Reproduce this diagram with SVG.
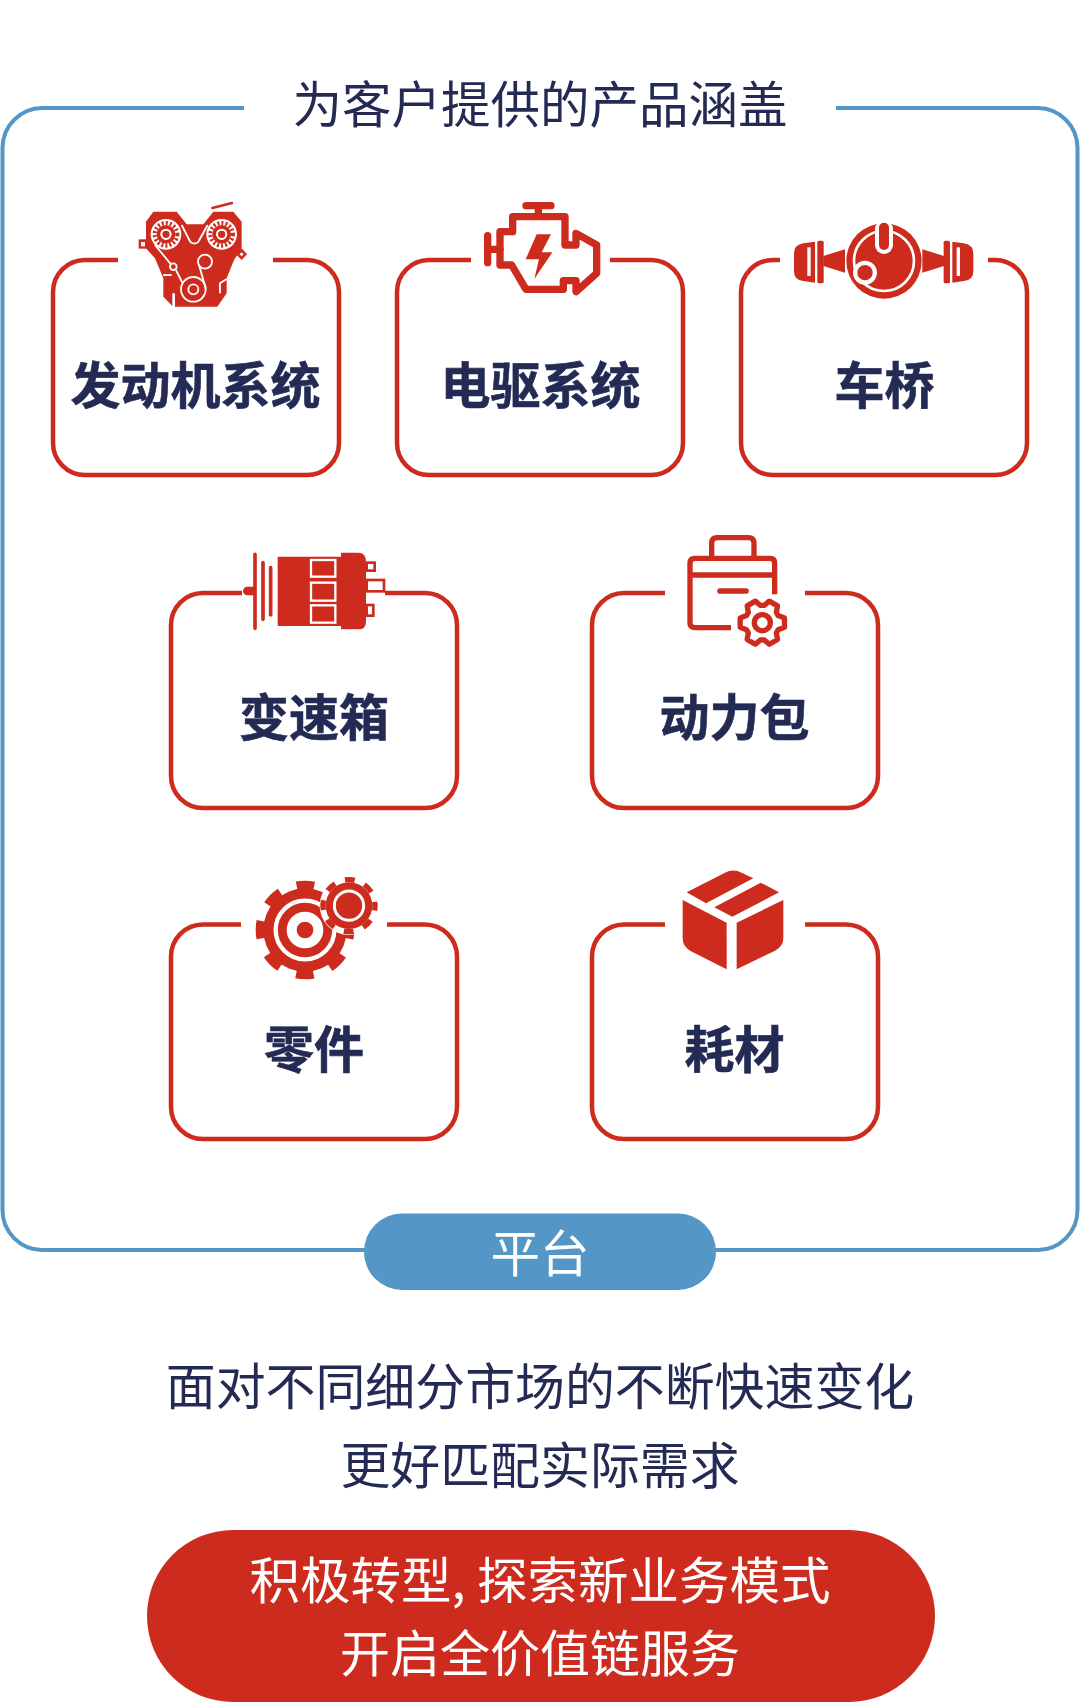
<svg xmlns="http://www.w3.org/2000/svg" xmlns:xlink="http://www.w3.org/1999/xlink" width="1080" height="1702" viewBox="0 0 1080 1702">
<style>
text{font-family:"Noto Sans CJK SC","Noto Sans",sans-serif;text-anchor:middle;font-size:49.500px}
.t{fill:#232b55}
.s{font-size:49.900px}
.b{fill:#232b55;font-weight:700;font-size:50px;stroke:#232b55;stroke-width:.6}
.w{fill:#fff}
.card{fill:none;stroke:#cc2b1d;stroke-width:4.500}
.r{fill:#cc2b1d}
.ws{fill:none;stroke:#fff}
.rs{fill:none;stroke:#cc2b1d;stroke-linecap:round;stroke-linejoin:round}
</style>
<rect width="1080" height="1702" fill="#fff"/>
<g id="frame">
<path d="M244 108H42A40 40 0 0 0 2.500 148V1210A40 40 0 0 0 42 1250H1038A40 40 0 0 0 1077.500 1210V148A40 40 0 0 0 1038 108H836" fill="none" stroke="#5497c6" stroke-width="4"/>
<text class="t" x="540" y="123">为客户提供的产品涵盖</text>
</g>
<g id="platform">
<rect x="364" y="1213.500" width="352" height="76.500" rx="38" fill="#5497c6"/>
<text class="w" x="540" y="1272">平台</text>
</g>
<g id="node-engine">
<path class="card" d="M118 260H85A32 32 0 0 0 53 292V443A32 32 0 0 0 85 475H307A32 32 0 0 0 339 443V292A32 32 0 0 0 307 260H273"/>
<g transform="translate(135 195) scale(.3333)">
<path class="r" d="M55 50H125L155 88H205L235 50H295L320 80V160L297 195L275 250V295L247 335H120V295H112V333L85 305V250L60 190L33 160V80Z"/>
<path class="rs" stroke-width="7" d="M232 39L291 24"/>
<rect x="11" y="133" width="24" height="28" class="r"/><rect x="18" y="141" width="12" height="13" fill="#fff"/>
<path class="r" d="M320 160L336 178L320 195L303 178Z"/><path d="M320 172L326 178L320 184L313 178Z" fill="#fff"/>
<g id="engine-gear">
<circle cx="93" cy="118" r="46" fill="#fff"/>
<circle class="r" cx="93" cy="118" r="28"/>
<circle cx="93" cy="118" r="34" fill="none" stroke="#cc2b1d" stroke-width="12" stroke-dasharray="6 6.200"/>
<circle class="ws" cx="93" cy="118" r="14" stroke-width="6"/>
</g>
<use xlink:href="#engine-gear" href="#engine-gear" transform="translate(167 0)"/>
<g class="ws" stroke-width="5.500">
<path d="M60 150L108 208M140 90L163 135A16 16 0 0 0 193 135L218 90"/>
<circle cx="115" cy="215" r="10"/>
<circle cx="175" cy="283" r="37"/><circle cx="175" cy="283" r="15"/>
<circle cx="210" cy="200" r="21"/>
<path d="M123 225L143 265M193 213L212 280"/>
<path d="M85 240H110M255 295V265L275 252"/>
</g>
</g>
<text class="b" x="195.500" y="404">发动机系统</text>
</g>
<g id="node-motor">
<path class="card" d="M471 260H429A32 32 0 0 0 397 292V443A32 32 0 0 0 429 475H651A32 32 0 0 0 683 443V292A32 32 0 0 0 651 260H610"/>
<g transform="translate(470 190) scale(.3333)">
<g class="rs" stroke-width="22">
<path d="M168 47H243M205 47V78M53 137V218M55 178H90"/>
<path d="M128 80H285V165H318V130L380 165V250L318 305V272H280V298H168L125 225H90V125H128Z"/>
</g>
<path class="r" d="M200 133H243L215 187H247L193 267L207 208H167Z"/>
</g>
<text class="b" x="540.500" y="404">电驱系统</text>
</g>
<g id="node-axle">
<path class="card" d="M780 260H773A32 32 0 0 0 741 292V443A32 32 0 0 0 773 475H995A32 32 0 0 0 1027 443V292A32 32 0 0 0 995 260H988"/>
<g transform="translate(770 200) scale(.3333)">
<g id="axle-half" class="r">
<path d="M135 125L100 130Q72 135 72 160V215Q72 240 100 243L135 248Z"/>
<rect x="112" y="142" width="10" height="86" fill="#fff"/>
<rect x="142" y="122" width="19" height="128" rx="5"/>
<path d="M160 168L225 148V218L160 198Z"/>
</g>
<use xlink:href="#axle-half" href="#axle-half" transform="translate(682 0) scale(-1 1)"/>
<circle class="r" cx="342" cy="183" r="113"/>
<circle class="ws" cx="342" cy="183" r="90" stroke-width="8"/>
<rect x="315" y="60" width="54" height="102" rx="27" fill="#fff"/>
<rect x="327" y="68" width="30" height="82" rx="15" class="r"/>
<circle cx="285" cy="218" r="36" fill="#fff"/><circle class="r" cx="285" cy="218" r="23"/>
</g>
<text class="b" x="884.500" y="404">车桥</text>
</g>
<g id="node-gearbox">
<path class="card" d="M242 593H203A32 32 0 0 0 171 625V776A32 32 0 0 0 203 808H425A32 32 0 0 0 457 776V625A32 32 0 0 0 425 593H385"/>
<g transform="translate(230 540) scale(.3333)">
<g class="rs" stroke-width="11"><path d="M75 43V265M99 68V238M122 83V225"/></g>
<path class="r" d="M75 140H52A13 13 0 0 0 52 166H75Z"/>
<path class="r" d="M146 50H333V38H385Q408 38 408 65V245Q408 268 385 268H333V258H146Q143 258 143 255V53Q143 50 146 50Z"/>
<g class="ws" stroke-width="7"><rect x="243" y="60" width="73" height="50"/><rect x="243" y="128" width="73" height="54"/><rect x="243" y="196" width="73" height="52"/></g>
<g fill="none" stroke="#cc2b1d" stroke-width="8"><rect x="410" y="68" width="24" height="24"/><rect x="410" y="120" width="52" height="34"/><rect x="410" y="195" width="20" height="32"/></g>
</g>
<text class="b" x="314" y="736">变速箱</text>
</g>
<g id="node-pack">
<path class="card" d="M665 593H624A32 32 0 0 0 592 625V776A32 32 0 0 0 624 808H846A32 32 0 0 0 878 776V625A32 32 0 0 0 846 593H805"/>
<g transform="translate(670 525) scale(.3333)">
<g class="rs" stroke-width="16">
<path d="M125 95V55Q125 38 142 38H235Q252 38 252 55V95"/>
<path d="M314 208V114Q314 100 300 100H75Q60 100 60 114V294Q60 308 75 308H183" stroke-linecap="butt"/>
<path d="M60 150H314" stroke-linecap="butt"/>
<path d="M150 198H228" stroke-width="17"/>
<path transform="translate(277 293)" d="M47.500 -21.200L66.500 -14.100V14.100L47.500 21.200L42.100 30.600L45.500 50.500L21 64.700L5.400 51.700H-5.400L-21 64.700L-45.500 50.500L-42.100 30.600L-47.500 21.200L-66.500 14.100V-14.100L-47.500 -21.200L-42.100 -30.600L-45.500 -50.500L-21 -64.700L-5.400 -51.700H5.400L21 -64.700L45.500 -50.500L42.100 -30.600Z"/>
<circle cx="277" cy="293" r="24"/>
</g>
</g>
<text class="b" x="734.500" y="736">动力包</text>
</g>
<g id="node-parts">
<path class="card" d="M241 924.500H203A32 32 0 0 0 171 956.500V1107A32 32 0 0 0 203 1139H425A32 32 0 0 0 457 1107V956.500A32 32 0 0 0 425 924.500H387"/>
<g transform="translate(245 865) scale(.3333)">
<circle class="r" cx="180" cy="195" r="125"/>
<circle cx="180" cy="195" r="133" fill="none" stroke="#cc2b1d" stroke-width="30" stroke-dasharray="52 52.500" stroke-dashoffset="26"/>
<circle class="ws" cx="180" cy="195" r="88" stroke-width="13"/>
<circle cx="180" cy="195" r="55" fill="#fff"/>
<circle class="r" cx="180" cy="195" r="25"/>
<circle cx="312" cy="122" r="88" fill="#fff"/>
<circle class="r" cx="312" cy="122" r="70"/>
<circle cx="312" cy="122" r="78" fill="none" stroke="#cc2b1d" stroke-width="16" stroke-dasharray="30 31.300" stroke-dashoffset="15"/>
<circle class="ws" cx="312" cy="122" r="44" stroke-width="9"/>
</g>
<text class="b" x="314" y="1068">零件</text>
</g>
<g id="node-consumables">
<path class="card" d="M665 924.500H624A32 32 0 0 0 592 956.500V1107A32 32 0 0 0 624 1139H846A32 32 0 0 0 878 1107V956.500A32 32 0 0 0 846 924.500H805"/>
<g transform="translate(670 860) scale(.3333)" class="r">
<path d="M38 120L170 188V328L60 272Q38 260 38 235Z"/>
<path d="M200 188L340 120V235Q340 260 315 272L200 328Z"/>
<path d="M50 97L165 38Q190 25 215 38L250 55L108 130Z"/>
<path d="M272 68L327 97L187 170L133 142Z"/>
</g>
<text class="b" x="734.500" y="1068">耗材</text>
</g>
<g id="summary">
<text class="t s" x="540" y="1405">面对不同细分市场的不断快速变化</text>
<text class="t s" x="540" y="1484">更好匹配实际需求</text>
</g>
<g id="cta">
<rect x="147" y="1530" width="788" height="172" rx="86" fill="#cc2b1d"/>
<text class="w" x="540" y="1599" style="font-size:50.500px">积极转型, 探索新业务模式</text>
<text class="w" x="540" y="1672" style="font-size:50px">开启全价值链服务</text>
</g>
</svg>
